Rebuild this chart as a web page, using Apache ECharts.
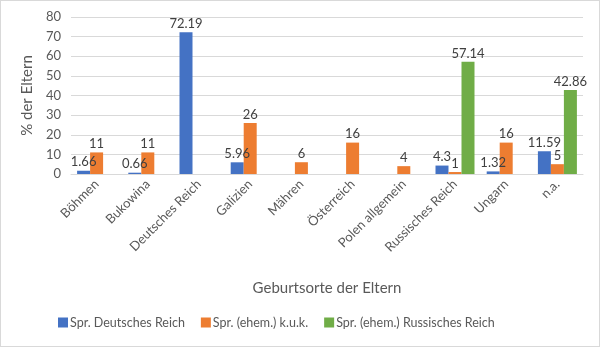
<!DOCTYPE html>
<html><head><meta charset="utf-8">
<script src="https://cdn.jsdelivr.net/npm/echarts@6/dist/echarts.min.js"></script>
<style>html,body{margin:0;padding:0;background:#fff}#c{width:598px;height:345px;border:1px solid #d9d9d9}</style>
</head><body><div id="c"></div>
<script>
const categories = ['Böhmen','Bukowina','Deutsches Reich','Galizien','Mähren','Österreich','Polen allgemein','Russisches Reich','Ungarn','n.a.'];
const seriesNames = ['Spr. Deutsches Reich','Spr. (ehem.) k.u.k.','Spr. (ehem.) Russisches Reich'];
const deutschesReich = [1.66, 0.66, 72.19, 5.96, null, null, null, 4.3, 1.32, 11.59];
const kuk = [11, 11, null, 26, 6, 16, 4, 1, 16, 5];
const russischesReich = [null, null, null, null, null, null, null, 57.14, null, 42.86];
const yTicks = {min: 0, max: 80, interval: 10};
const colors = ['#4472C4','#ED7D31','#70AD47'];
const FONT = 'Lato';
const chart = echarts.init(document.getElementById('c'));
const lbl = {show: true, position: 'top', distance: 2, color: '#404040', fontSize: 13, fontFamily: FONT};
const mk = (name, data, i) => ({name, type: 'bar', data, itemStyle: {color: colors[i]}, barWidth: 13, barGap: '0%', label: lbl});
chart.setOption({
  animation: false,
  textStyle: {fontFamily: FONT},
  grid: {left: 70, right: 16, top: 16, bottom: 172, containLabel: false},
  legend: {bottom: 12, left: 52, itemWidth: 10, itemHeight: 10, itemGap: 16, icon: 'rect',
    textStyle: {color: '#595959', fontSize: 12.5, fontFamily: FONT, padding: [0,0,0,-3]}, data: seriesNames},
  xAxis: {type: 'category', data: categories,
    axisLine: {lineStyle: {color: '#d9d9d9'}}, axisTick: {show: false},
    axisLabel: {rotate: 45, align: 'right', verticalAlign: 'middle', color: '#595959', fontSize: 13, fontFamily: FONT, interval: 0, margin: 8},
    name: 'Geburtsorte der Eltern', nameLocation: 'middle', nameGap: 107,
    nameTextStyle: {color: '#595959', fontSize: 15, fontFamily: FONT}},
  yAxis: {type: 'value', min: yTicks.min, max: yTicks.max, interval: yTicks.interval,
    axisLine: {show: false}, axisTick: {show: false},
    axisLabel: {color: '#595959', fontSize: 13, fontFamily: FONT, margin: 10},
    splitLine: {lineStyle: {color: '#d9d9d9'}},
    name: '% der Eltern', nameLocation: 'middle', nameGap: 34, nameRotate: 90,
    nameTextStyle: {color: '#595959', fontSize: 15, fontFamily: FONT}},
  series: [mk(seriesNames[0], deutschesReich, 0), mk(seriesNames[1], kuk, 1), mk(seriesNames[2], russischesReich, 2)]
});
</script></body></html>
